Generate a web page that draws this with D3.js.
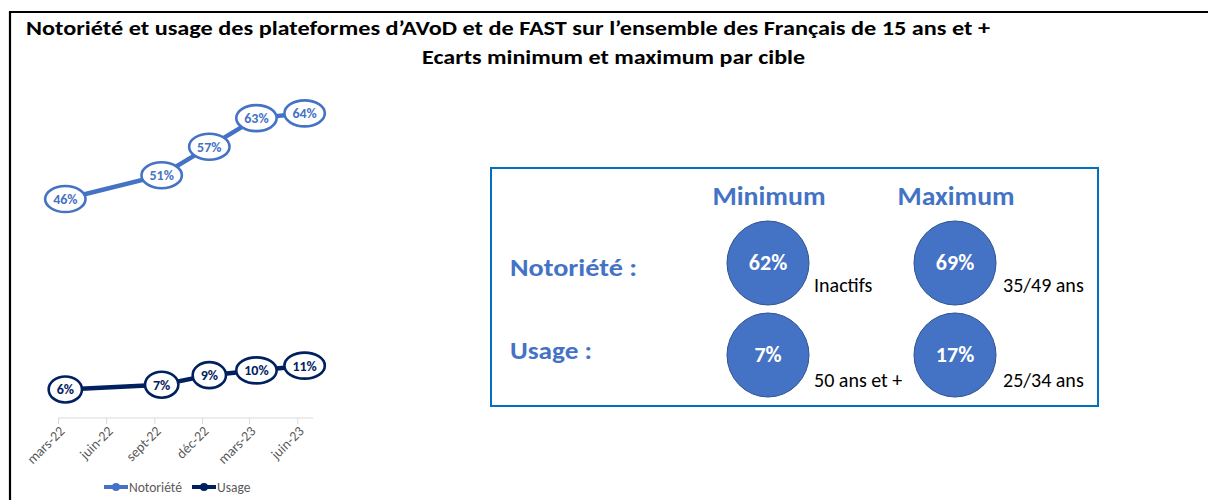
<!DOCTYPE html>
<html>
<head>
<meta charset="utf-8">
<script src="https://cdn.jsdelivr.net/npm/d3@7"></script>
<style>
  html,body{margin:0;padding:0;background:#fff;}
  svg{display:block;}
</style>
</head>
<body>
<svg id="chart" width="1208" height="500"></svg>
<script>
// ---- data ----
const titleLines = ["Notoriété et usage des plateformes d’AVoD et de FAST sur l’ensemble des Français de 15 ans et +",
                    "Ecarts minimum et maximum par cible"];
const pointMonths = ["2022-03-15", "2022-09-15", "2022-12-15", "2023-03-15", "2023-06-15"];
const notorieteValues = [46, 51, 57, 63, 64];
const usageValues = [6, 7, 9, 10, 11];
const tickMonths = ["2022-03-01", "2022-06-01", "2022-09-01", "2022-12-01", "2023-03-01", "2023-06-01"];
const tickLabels = ["mars-22", "juin-22", "sept-22", "déc-22", "mars-23", "juin-23"];
const seriesNames = ["Notoriété", "Usage"];

const boxColumns = ["Minimum", "Maximum"];
const boxRows = ["Notoriété :", "Usage :"];
const boxValues = [[62, 69], [7, 17]];
const boxTargets = [["Inactifs", "35/49 ans"], ["50 ans et +", "25/34 ans"]];

// ---- styles ----
const C_NOTO = "#4472C4", C_USAGE = "#002060", C_BOX = "#0070C0";
const FONT = "Carlito, Calibri, Lato, 'Noto Sans', sans-serif";

const svg = d3.select("#chart");

// outer frame (top and left)
svg.append("path").attr("d", "M10,500 L10,12 L1208,12")
  .attr("fill", "none").attr("stroke", "#000").attr("stroke-width", 2.2);

// title
svg.append("text").attr("x", 26).attr("y", 35).text(titleLines[0])
  .attr("font-family", FONT).attr("font-weight", "bold").attr("font-size", 21).attr("fill", "#000")
  .attr("textLength", 964).attr("lengthAdjust", "spacingAndGlyphs");
svg.append("text").attr("x", 422).attr("y", 64).text(titleLines[1])
  .attr("font-family", FONT).attr("font-weight", "bold").attr("font-size", 21).attr("fill", "#000")
  .attr("textLength", 383).attr("lengthAdjust", "spacingAndGlyphs");

// ---- line chart ----
const parse = d3.timeParse("%Y-%m-%d");
const x = d3.scaleTime()
  .domain([parse("2022-03-01"), parse("2023-07-01")])
  .range([58, 313]);
const y = d3.scaleLinear().domain([0, 70]).range([418, 418 - 4.76 * 70]);

const axisG = svg.append("g").attr("transform", `translate(0,${y(0)})`);
axisG.call(d3.axisBottom(x).tickValues(tickMonths.map(parse)).tickSize(6)
  .tickFormat((d, i) => tickLabels[i]));
axisG.select(".domain").attr("stroke", "#D9D9D9").attr("stroke-width", 1).attr("d", `M${x.range()[0]},0H${x.range()[1]}`);
axisG.selectAll(".tick line").attr("stroke", "#D9D9D9");
axisG.selectAll(".tick text")
  .attr("font-family", FONT).attr("font-size", 14).attr("fill", "#595959")
  .attr("text-anchor", "end").attr("dy", null).attr("y", 0)
  .attr("transform", "translate(7,14) rotate(-45)");

const series = [
  {name: seriesNames[0], values: notorieteValues, color: C_NOTO},
  {name: seriesNames[1], values: usageValues, color: C_USAGE}
];
const line = d3.line().x((d, i) => x(parse(pointMonths[i]))).y(d => y(d));

series.forEach(s => {
  svg.append("path").datum(s.values).attr("d", line)
    .attr("fill", "none").attr("stroke", s.color).attr("stroke-width", 4.5);
  const g = svg.append("g").selectAll("g").data(s.values).join("g")
    .attr("transform", (d, i) => `translate(${x(parse(pointMonths[i]))},${y(d)})`);
  const ell = g.append("ellipse").attr("fill", "#fff").attr("stroke", s.color).attr("stroke-width", 2.6).attr("ry", 13);
  const txt = g.append("text").text(d => d + "%")
    .attr("text-anchor", "middle").attr("dy", "0.36em")
    .attr("font-family", FONT).attr("font-weight", "bold").attr("font-size", 14).attr("fill", s.color);
  txt.each(function(d, i) {
    const w = this.getComputedTextLength();
    d3.select(ell.nodes()[i]).attr("rx", w / 2 + 8);
  });
});

// legend
const legendItems = [{x: 104, name: seriesNames[0], color: C_NOTO}, {x: 192, name: seriesNames[1], color: C_USAGE}];
legendItems.forEach(it => {
  svg.append("line").attr("x1", it.x).attr("x2", it.x + 24).attr("y1", 487).attr("y2", 487)
    .attr("stroke", it.color).attr("stroke-width", 4);
  svg.append("circle").attr("cx", it.x + 12).attr("cy", 487).attr("r", 4).attr("fill", it.color);
  svg.append("text").attr("x", it.x + 25).attr("y", 492).text(it.name)
    .attr("font-family", FONT).attr("font-size", 13.5).attr("fill", "#595959");
});

// ---- min / max box ----
svg.append("rect").attr("x", 491).attr("y", 168).attr("width", 607).attr("height", 238)
  .attr("fill", "none").attr("stroke", C_BOX).attr("stroke-width", 2);

const colX = d3.scalePoint().domain(boxColumns).range([768, 955]);
const rowY = d3.scalePoint().domain(boxRows).range([263, 355]);
const colTitleWidths = [113, 117];
const rowTitleWidths = [127, 82];

boxColumns.forEach((c, ci) => {
  svg.append("text").attr("x", colX(c) - colTitleWidths[ci] / 2 + 1).attr("y", 205).text(c)
    .attr("font-family", FONT).attr("font-weight", "bold")
    .attr("font-size", 26).attr("fill", C_NOTO)
    .attr("textLength", colTitleWidths[ci]).attr("lengthAdjust", "spacingAndGlyphs");
});
boxRows.forEach((r, ri) => {
  svg.append("text").attr("x", 510).attr("y", rowY(r) + (ri === 0 ? 13 : 4)).text(r)
    .attr("font-family", FONT).attr("font-weight", "bold").attr("font-size", 24).attr("fill", C_NOTO)
    .attr("textLength", rowTitleWidths[ri]).attr("lengthAdjust", "spacingAndGlyphs");
  boxColumns.forEach((c, ci) => {
    const cx = colX(c), cy = rowY(r);
    svg.append("ellipse").attr("cx", cx).attr("cy", cy).attr("rx", 41).attr("ry", 42)
      .attr("fill", C_NOTO).attr("stroke", "#2F528F").attr("stroke-width", 1);
    svg.append("text").attr("x", cx).attr("y", cy).attr("dy", "0.33em").text(boxValues[ri][ci] + "%")
      .attr("text-anchor", "middle").attr("font-family", FONT).attr("font-weight", "bold")
      .attr("font-size", 22).attr("fill", "#fff");
    svg.append("text").attr("x", cx + (ci === 0 ? 46 : 48)).attr("y", cy + 29 + (ri === 1 ? 3 : 0)).text(boxTargets[ri][ci])
      .attr("font-family", FONT).attr("font-size", 20).attr("fill", "#000");
  });
});
</script>
</body>
</html>
